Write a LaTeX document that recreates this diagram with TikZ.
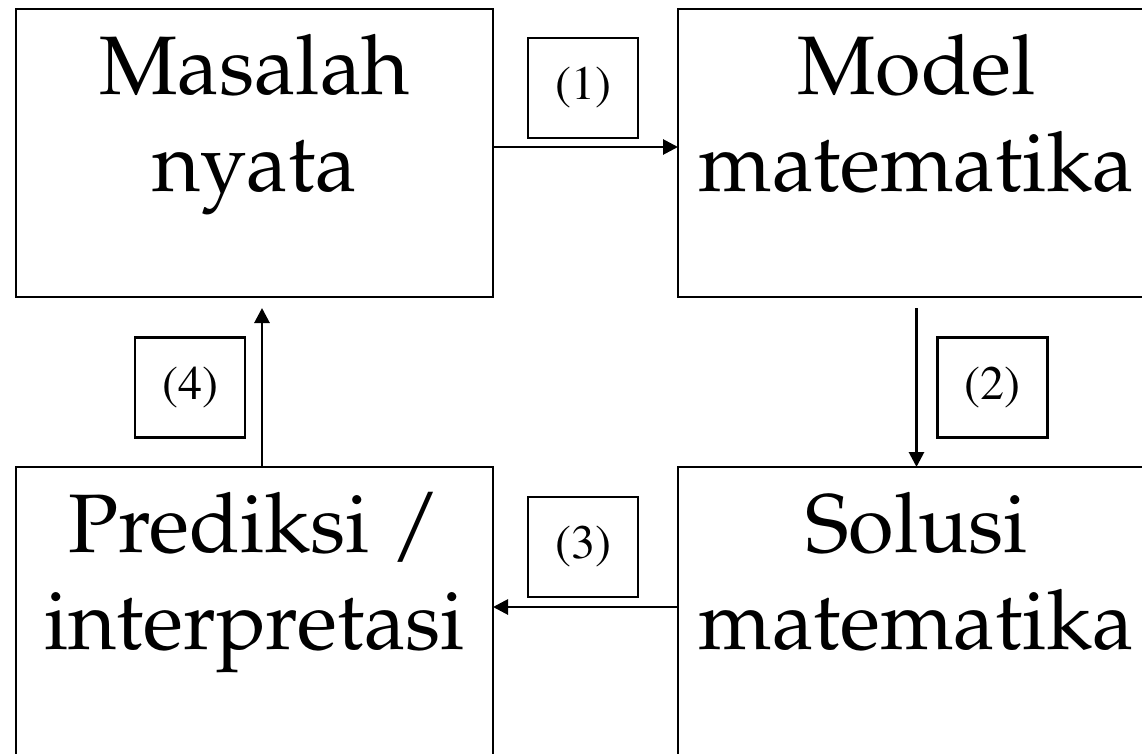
\documentclass[tikz,border=0pt]{standalone}
\usepackage[T1]{fontenc}
\usepackage{mathpazo}
\usetikzlibrary{arrows.meta,positioning}
\tikzset{
    stage/.style={draw,line width=1.4pt,minimum width=238.5pt,minimum height=144pt,inner sep=0pt,outer sep=0pt},
    stagetext/.style={anchor=north,align=center,inner sep=0pt,yshift=-12.4pt,font=\fontsize{41.5}{48.5}\selectfont},
    tag/.style={draw,line width=1.4pt,minimum width=55pt,minimum height=50pt,inner sep=0pt,outer sep=0pt,font=\fontfamily{ptm}\fontsize{24}{28}\selectfont},
    pre/.style={-{Triangle[length=7.5pt,width=7.5pt]},line width=1.4pt}
}

\begin{document}
\begin{tikzpicture}[x=0.5pt,y=-0.5pt]
    \useasboundingbox (0,0) rectangle (1142,755);
    \clip (0,0) rectangle (1142,753);

    \node[stage] (masalah) at (254.5,153) [label={[stagetext]north:Masalah\\nyata}] {};
    \node[stage] (model) [right=92.5pt of masalah, label={[stagetext]north:Model\\matematika}] {};
    \node[stage] (prediksi) [below=85pt of masalah, label={[stagetext]north:Prediksi /\\interpretasi}] {};
    \node[stage] (solusi) [below=85pt of model, label={[stagetext]north:Solusi\\matematika}] {};

    \node[tag] (tag 1) at (583,88)    {(1)};
    \node[tag] (tag 2) at (992.5,387.5) {(2)};
    \node[tag] (tag 3) at (583,547)   {(3)};
    \node[tag] (tag 4) at (190,387.5) {(4)};

    \draw[pre] ([yshift=3pt]masalah.east) -- ([yshift=3pt]model.west);
    \draw[pre] ([yshift=-5.5pt]model.south) -- (solusi.north);
    \draw[pre] ([yshift=2pt]solusi.west) -- ([yshift=2pt]prediksi.east);
    \draw[pre] ([xshift=3.75pt]prediksi.north) -- ([xshift=3.75pt,yshift=-5.5pt]masalah.south);
\end{tikzpicture}
\end{document}
